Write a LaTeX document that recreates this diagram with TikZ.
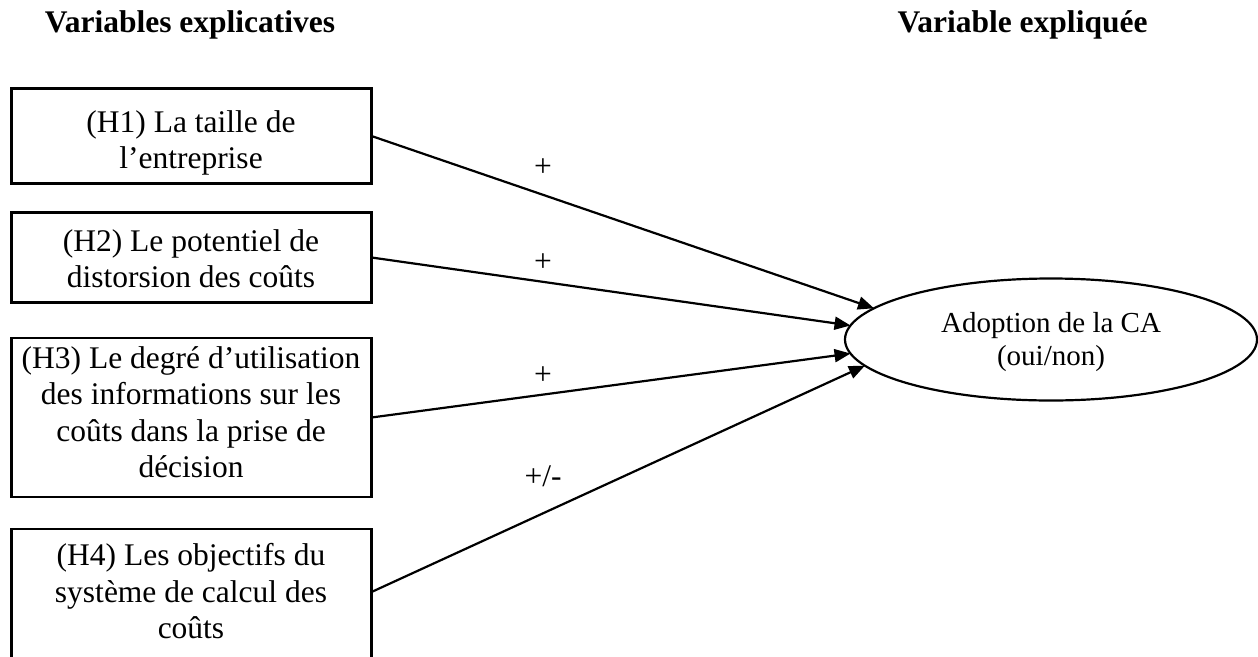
\documentclass[tikz,border=0pt]{standalone}
\usepackage{fontspec}
\setmainfont{Liberation Serif}
\usetikzlibrary{shapes.geometric,arrows.meta}
\begin{document}
\begin{tikzpicture}[x=1pt,y=-1pt,
  box/.style={draw, line width=2.2pt, minimum width=360pt, inner sep=0pt, outer sep=0pt},
  boxtext/.style={align=center, inner sep=0pt, font=\fontsize{31.5}{36.5}\selectfont},
  head/.style={anchor=base, inner sep=0pt, font=\fontsize{31.5}{36.5}\selectfont\bfseries},
  sign/.style={anchor=base, inner sep=0pt, font=\fontsize{31.5}{36.5}\selectfont},
  link/.style={line width=2.2pt, -{Triangle[length=16pt,width=13pt]}},
]
\useasboundingbox (0,0) rectangle (1258,656);

% column headings
\node[head] (hl) at (190,32) {Variables explicatives};
\node[head] (hr) at (1022.5,32) {Variable expliquée};

% explanatory variables (the last box runs past the lower edge)
\node[box, minimum height=95pt]  (b1) at (191.5,136)   {};
\node[box, minimum height=90pt]  (b2) at (191.5,257.5) {};
\node[box, minimum height=159pt] (b3) at (191.5,417.5) {};
\node[box, minimum height=136pt] (b4) at (191.5,597)   {};

\node[boxtext] (t1) at (191,143) {\strut(H1) La taille de\\l’entreprise\strut};
\node[boxtext] (t2) at (191,262) {\strut(H2) Le potentiel de\\distorsion des coûts\strut};
\node[boxtext] (t3) at (191,415.5) {\strut(H3) Le degré d’utilisation\\des informations sur les\\coûts dans la prise de\\décision\strut};
\node[boxtext] (t4) at (191,595) {\strut(H4) Les objectifs du\\système de calcul des\\coûts\strut};

% explained variable
\node[draw, ellipse, line width=2.2pt, minimum width=412pt, minimum height=122pt,
      inner sep=0pt, outer sep=0pt] (ca) at (1051,339.5) {};
\node[align=center, inner sep=0pt, font=\fontsize{29}{33}\selectfont] (cat) at (1051,342)
  {\strut Adoption de la CA\\(oui/non)\strut};

% hypothesised effects
\draw[link] (b1.east |- 0,136) -- (ca.170.3);
\draw[link] (b2.east) -- (ca.176.3);
\draw[link] (b3.east) -- (ca.184.8);
\draw[link] (b4.east |- 0,592) -- (ca.188.7);

\node[sign] (s1) at (543,176) {+};
\node[sign] (s2) at (543,271) {+};
\node[sign] (s3) at (543,384) {+};
\node[sign] (s4) at (543,486) {+/-};
\end{tikzpicture}
\end{document}
